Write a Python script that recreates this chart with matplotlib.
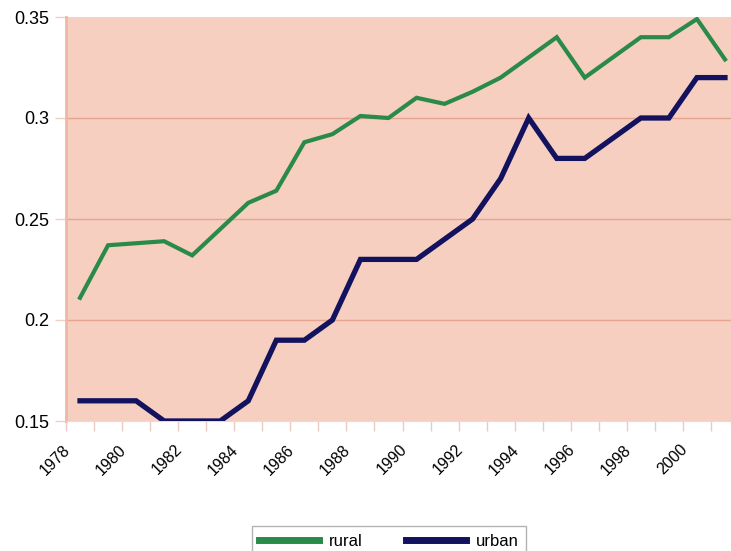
import matplotlib
matplotlib.use("Agg")
import matplotlib.pyplot as plt
import matplotlib.transforms as mtransforms
import numpy as np

years = list(range(1978, 2002))
rural = [0.211, 0.237, 0.238, 0.239, 0.232, 0.245, 0.258, 0.264, 0.288, 0.292,
         0.301, 0.300, 0.310, 0.307, 0.313, 0.320, 0.330, 0.340, 0.320, 0.330,
         0.340, 0.340, 0.349, 0.329]
urban = [0.160, 0.160, 0.160, 0.150, 0.150, 0.150, 0.160, 0.190, 0.190, 0.200,
         0.230, 0.230, 0.230, 0.240, 0.250, 0.270, 0.300, 0.280, 0.280, 0.290,
         0.300, 0.300, 0.320, 0.320]
ytick_vals = [0.15, 0.2, 0.25, 0.3, 0.35]
ytick_labels = ["0.15", "0.2", "0.25", "0.3", "0.35"]

plt.rcParams['font.family'] = ['Liberation Sans', 'DejaVu Sans']

fig = plt.figure(figsize=(7.31, 5.51), dpi=100)
fig.patch.set_facecolor('white')
ax = fig.add_axes([66/731, 1-421/551, (739-66)/731, (421-17)/551])
ax.set_facecolor('#F6CFC0')

x = np.arange(len(years))
ax.plot(x, rural, color='#2A8A4A', lw=3.0, solid_joinstyle='miter', label='rural', zorder=3)
ax.plot(x, urban, color='#12125E', lw=3.8, solid_joinstyle='miter', label='urban', zorder=3)

ax.set_xlim(-0.5, len(years) - 0.5)
ax.set_ylim(0.15, 0.35)

ax.set_yticks(ytick_vals)
ax.set_yticklabels(ytick_labels, fontsize=13)
ax.tick_params(axis='y', length=8, color='#F0D0C4', width=1, pad=4)
for yv in ytick_vals[1:-1]:
    ax.axhline(yv, color='#E6A590', lw=1, zorder=1)

ax.set_xticks(x[::2])
ax.set_xticklabels([str(y) for y in years[::2]], fontsize=11.5, rotation=45,
                   ha='right', va='top')
ax.tick_params(axis='x', length=0, pad=15)
ax.set_xticks(np.arange(-0.5, len(years), 1), minor=True)
ax.tick_params(axis='x', which='minor', length=7, color='#E8CBC3', width=1)
offset = mtransforms.ScaledTranslation(-7/100, 0, fig.dpi_scale_trans)
for lab in ax.get_xticklabels():
    lab.set_transform(lab.get_transform() + offset)

for s in ['top', 'right']:
    ax.spines[s].set_visible(False)
ax.spines['left'].set_color('#EDB8A6')
ax.spines['left'].set_linewidth(2)
ax.spines['bottom'].set_color('#F0D8D0')

leg = fig.legend(loc='upper center', bbox_to_anchor=(389/731, 1-526/551), ncol=2,
                 fontsize=12, frameon=True, fancybox=False, edgecolor='#A0A0A0',
                 handlelength=3.6, columnspacing=2.6, handletextpad=0.6,
                 borderpad=0.45, borderaxespad=0)
leg.get_frame().set_linewidth(1)
for h in leg.get_lines():
    h.set_linewidth(5)

fig.savefig('out.png', dpi=100)
